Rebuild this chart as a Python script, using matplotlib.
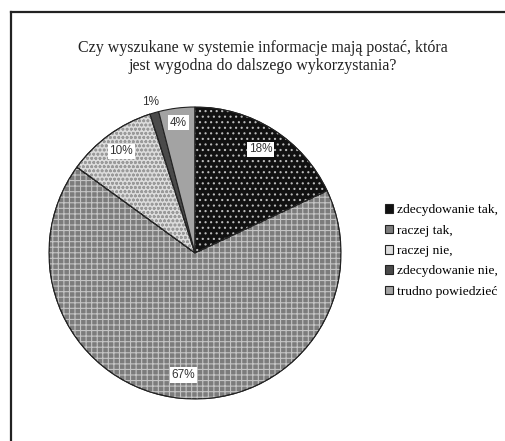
import numpy as np
import matplotlib
matplotlib.use("Agg")
import matplotlib.pyplot as plt
from matplotlib.patches import Wedge
from matplotlib.lines import Line2D

# dane z wykresu
kategorie = ["zdecydowanie tak,", "raczej tak,", "raczej nie,", "zdecydowanie nie,", "trudno powiedzieć"]
wartosci = [18, 67, 10, 1, 4]
tytul = "Czy wyszukane w systemie informacje mają postać, która\njest wygodna do dalszego wykorzystania?"

# wyglad wycinkow
kolory = ["#111111", "#7c7c7c", "#dcdcdc", "#4a4a4a", "#a3a3a3"]
wzory = ["...", "+++", "oooo", None, None]
kolory_wzoru = ["#bbbbbb", "#c4c4c4", "#9a9a9a", None, None]
odleglosc_etykiet = [0.84, 0.84, 0.86, 1.08, 0.9]

W, H = 505, 441
fig = plt.figure(figsize=(W / 100, H / 100), dpi=100)
fig.patch.set_facecolor("white")

# ramka (lewa i gorna krawedz)
fig.add_artist(Line2D([11 / W, 11 / W], [0, 1 - 12 / H], color="#222222", lw=1.6))
fig.add_artist(Line2D([11 / W, 1], [1 - 12 / H, 1 - 12 / H], color="#222222", lw=1.6))

fig.text(263 / W, 1 - 40 / H, tytul, ha="center", va="top", fontsize=11.5,
         family="Liberation Serif", color="#222222", linespacing=1.15)

# os kolowa
cx, cy, r = 195, 253, 146
ax = fig.add_axes([(cx - r) / W, (H - cy - r) / H, 2 * r / W, 2 * r / H])
wedges, _ = ax.pie(wartosci, colors=kolory, startangle=90, counterclock=False,
                   wedgeprops=dict(edgecolor="#222222", linewidth=0.8))
ax.set_xlim(-1, 1)
ax.set_ylim(-1, 1)
ax.set_aspect("equal")

plt.rcParams["hatch.linewidth"] = 0.8
for w, wz, kw in zip(wedges, wzory, kolory_wzoru):
    if wz is None:
        continue
    ax.add_patch(Wedge(w.center, w.r, w.theta1, w.theta2, facecolor="none",
                       edgecolor=kw, linewidth=0, hatch=wz))
    ax.add_patch(Wedge(w.center, w.r, w.theta1, w.theta2, facecolor="none",
                       edgecolor="#222222", linewidth=0.8))

# etykiety procentowe
for w, v, d in zip(wedges, wartosci, odleglosc_etykiet):
    kat = np.deg2rad((w.theta1 + w.theta2) / 2)
    x, y = d * np.cos(kat), d * np.sin(kat)
    box = None if d > 1 else dict(boxstyle="square,pad=0.15", fc="white", ec="none")
    ax.text(x, y, f"{v}%", ha="center", va="center", fontsize=8.5,
            family="Liberation Sans", color="#333333", bbox=box)

leg = fig.legend(wedges, kategorie, loc="center left", bbox_to_anchor=(373 / W, 1 - 251 / H),
                 frameon=False, handlelength=0.6, handleheight=0.6, handletextpad=0.3,
                 labelspacing=0.62, prop={"family": "Liberation Serif", "size": 9.7})

fig.savefig("out.png", dpi=100)
